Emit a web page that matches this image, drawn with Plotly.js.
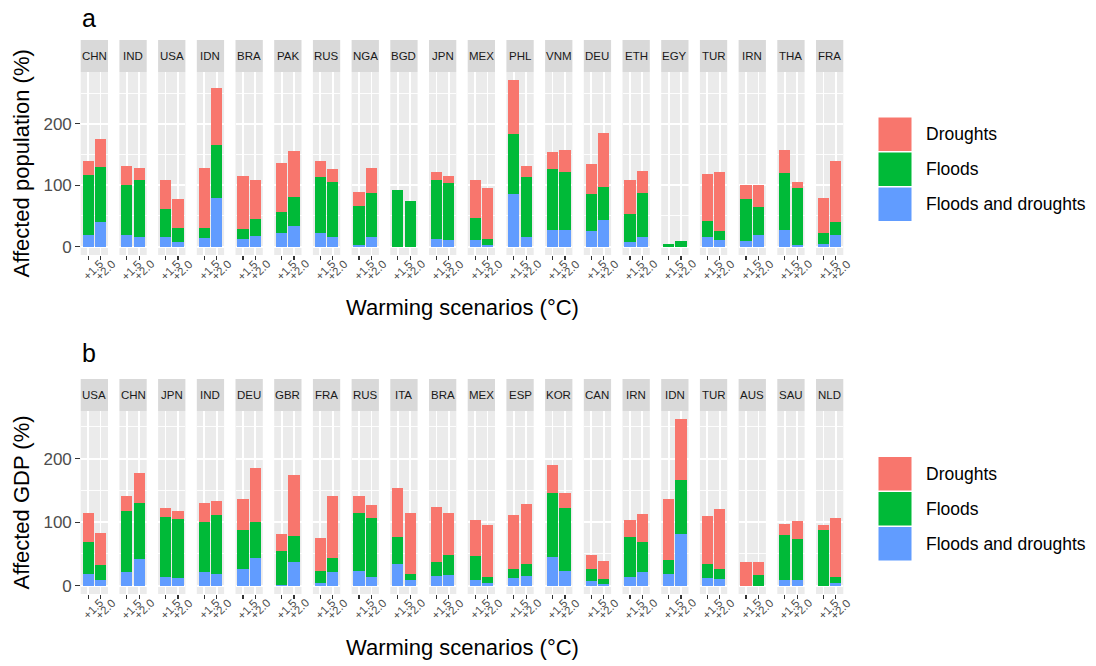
<!DOCTYPE html>
<html><head><meta charset="utf-8">
<script src="https://cdn.plot.ly/plotly-3.0.1.min.js"></script>
<style>html,body{margin:0;padding:0;background:#fff}#chart{width:1096px;height:666px}</style>
</head><body><div id="chart"></div>
<script>
// ---------- data ----------
const scenarios = ['+1.5', '+2.0'];
const seriesNames = ['Droughts', 'Floods', 'Floods and droughts'];
const seriesColors = ['#F8766D', '#00BA38', '#619CFF'];

// Panel a: affected population (%), segment heights per country [+1.5, +2.0]
const countriesA = ['CHN','IND','USA','IDN','BRA','PAK','RUS','NGA','BGD','JPN','MEX','PHL','VNM','DEU','ETH','EGY','TUR','IRN','THA','FRA'];
const popBoth = [[19,41],[19,16],[16,8],[14,79],[12,17],[22,34],[22,15],[2,16],[0,0],[13,11],[11,3],[86,16],[27,28],[25,44],[8,15],[0,0],[15,11],[9,19],[28,2],[5,19]];
const popFloods = [[98,89],[82,92],[46,22],[16,86],[17,28],[34,47],[91,91],[64,72],[92,75],[95,92],[35,9],[97,98],[100,93],[61,54],[46,73],[5,10],[27,15],[69,45],[92,93],[17,22]];
const popDroughts = [[22,46],[30,20],[46,48],[98,94],[86,64],[81,75],[26,21],[23,40],[1,0],[13,12],[62,83],[88,17],[27,36],[49,87],[54,36],[0,0],[76,95],[23,37],[38,11],[58,98]];

// Panel b: affected GDP (%)
const countriesB = ['USA','CHN','JPN','IND','DEU','GBR','FRA','RUS','ITA','BRA','MEX','ESP','KOR','CAN','IRN','IDN','TUR','AUS','SAU','NLD'];
const gdpBoth = [[19,9],[22,42],[13,12],[21,19],[26,44],[1,38],[5,21],[23,14],[34,9],[15,17],[9,5],[12,16],[45,23],[8,2],[14,22],[19,81],[12,11],[0,0],[9,9],[0,5]];
const gdpFloods = [[50,24],[96,89],[95,93],[80,92],[61,57],[53,41],[18,23],[91,92],[42,10],[22,32],[38,9],[14,18],[101,100],[19,9],[62,47],[22,86],[22,16],[0,17],[71,65],[88,9]];
const gdpDroughts = [[45,50],[24,46],[14,13],[30,22],[49,85],[27,96],[52,98],[28,21],[78,95],[87,66],[56,82],[85,95],[44,23],[21,28],[27,44],[96,95],[75,94],[37,20],[17,28],[7,93]];

// ---------- layout helpers ----------
const W = 1096, H = 666;
const px = v => v / W;
const py = v => 1 - v / H;
const FL0 = 80.7, PITCH = 38.7, FW = 27.3;
const FONT = 'Liberation Sans, Arial, Helvetica, sans-serif';

const panels = [
  {countries: countriesA, both: popBoth, floods: popFloods, droughts: popDroughts,
   stripTop: 40, top: 72, bottom: 255, range: [-13.55, 284.6],
   ytitle: 'Affected population (%)', label: 'a', labelY: 18, xtitleY: 307, legendTop: 117},
  {countries: countriesB, both: gdpBoth, floods: gdpFloods, droughts: gdpDroughts,
   stripTop: 379, top: 411, bottom: 594, range: [-13.1, 275.1],
   ytitle: 'Affected GDP (%)', label: 'b', labelY: 353, xtitleY: 647, legendTop: 456.5}
];

const traces = [];
const layout = {
  width: W, height: H,
  margin: {l: 0, r: 0, t: 0, b: 0},
  paper_bgcolor: '#FFFFFF', plot_bgcolor: '#EBEBEB',
  barmode: 'stack', showlegend: false,
  font: {family: FONT, color: '#000'},
  shapes: [], annotations: [],
  hovermode: false
};

panels.forEach((P, p) => {
  const yId = p === 0 ? 'y' : 'y2';
  const yKey = p === 0 ? 'yaxis' : 'yaxis2';
  const firstX = p === 0 ? 'x' : 'x' + (p * 20 + 1);
  layout[yKey] = {
    domain: [py(P.bottom), py(P.top)],
    anchor: firstX,
    range: P.range,
    tickvals: [0, 100, 200],
    ticktext: ['0', '100', '200'],
    ticks: 'outside', ticklen: 4.5, tickwidth: 1.1, tickcolor: '#333333',
    tickfont: {size: 17, color: '#4D4D4D', family: FONT},
    showgrid: true, gridcolor: '#FFFFFF', gridwidth: 1.8,
    minor: {tickvals: [50, 150, 250], showgrid: true, gridcolor: '#FFFFFF', gridwidth: 0.9},
    zeroline: false, showline: false, fixedrange: true
  };
  P.countries.forEach((c, i) => {
    const n = p * 20 + i + 1;
    const xId = n === 1 ? 'x' : 'x' + n;
    const xKey = n === 1 ? 'xaxis' : 'xaxis' + n;
    const left = FL0 + i * PITCH;
    layout[xKey] = {
      domain: [px(left), px(left + FW)],
      anchor: yId,
      type: 'category',
      categoryorder: 'array', categoryarray: scenarios,
      range: [-0.6, 1.6],
      tickmode: 'linear', tick0: 0, dtick: 1,
      showgrid: true, gridcolor: '#FFFFFF', gridwidth: 1.8,
      ticks: 'outside', ticklen: 4, tickwidth: 1.1, tickcolor: '#333333',
      showticklabels: false, zeroline: false, showline: false, fixedrange: true
    };
    // stacked segments: bottom blue, green, then red
    const segs = [[P.both, 2], [P.floods, 1], [P.droughts, 0]];
    segs.forEach(([arr, s]) => {
      traces.push({
        type: 'bar', x: scenarios, y: arr[i],
        xaxis: xId, yaxis: yId,
        width: 0.9,
        marker: {color: seriesColors[s], line: {width: 0}},
        name: seriesNames[s], hoverinfo: 'skip'
      });
    });
    // strip
    layout.shapes.push({
      type: 'rect', xref: 'paper', yref: 'paper',
      x0: px(left), x1: px(left + FW), y0: py(P.top), y1: py(P.stripTop),
      fillcolor: '#D9D9D9', line: {width: 0}, layer: 'below'
    });
    layout.annotations.push({
      xref: 'paper', yref: 'paper', x: px(left + FW / 2), y: py((P.stripTop + P.top) / 2),
      text: c, showarrow: false, xanchor: 'center', yanchor: 'middle',
      font: {size: 11.5, color: '#1A1A1A', family: FONT}
    });
    // rotated tick labels (category index positions on the facet's own axis)
    scenarios.forEach((sc, k) => {
      layout.annotations.push({
        xref: xId, yref: 'paper', x: k, y: py(P.bottom + 15),
        text: sc, showarrow: false, textangle: -45,
        xanchor: 'center', yanchor: 'middle', xshift: 5,
        font: {size: 11.5, color: '#4D4D4D', family: FONT}
      });
    });
  });
  // titles
  layout.annotations.push({
    xref: 'paper', yref: 'paper', x: px(21), y: py((P.top + P.bottom) / 2),
    text: P.ytitle, showarrow: false, textangle: -90, xanchor: 'center', yanchor: 'middle',
    font: {size: 22, color: '#000', family: FONT}
  });
  layout.annotations.push({
    xref: 'paper', yref: 'paper', x: px((FL0 + FL0 + 19 * PITCH + FW) / 2), y: py(P.xtitleY),
    text: 'Warming scenarios (°C)', showarrow: false, xanchor: 'center', yanchor: 'middle',
    font: {size: 22, color: '#000', family: FONT}
  });
  layout.annotations.push({
    xref: 'paper', yref: 'paper', x: px(80), y: py(P.labelY),
    text: P.label, showarrow: false, xanchor: 'left', yanchor: 'middle',
    font: {size: 25, color: '#000', family: FONT}
  });
  // legend
  seriesNames.forEach((nm, k) => {
    const y0 = P.legendTop + k * 35;
    layout.shapes.push({
      type: 'rect', xref: 'paper', yref: 'paper',
      x0: px(878), x1: px(912), y0: py(y0 + 34.5), y1: py(y0),
      fillcolor: seriesColors[k], line: {width: 1, color: '#FFFFFF'}
    });
    layout.annotations.push({
      xref: 'paper', yref: 'paper', x: px(924), y: py(y0 + 17.5),
      text: nm, showarrow: false, xanchor: 'left', yanchor: 'middle',
      font: {size: 17.5, color: '#000', family: FONT}
    });
  });
});

Plotly.newPlot('chart', traces, layout, {staticPlot: true, displayModeBar: false});
</script>
</body></html>
